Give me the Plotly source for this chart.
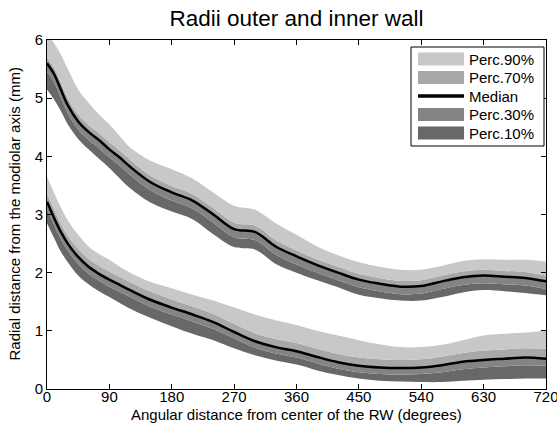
import plotly.graph_objects as go

angles = [0, 10, 20, 30, 45, 60, 75, 90, 105, 120, 150, 180, 210, 240, 270, 300,
          330, 360, 390, 420, 450, 480, 510, 540, 570, 600, 630, 660, 690, 720]

outer_p90 = [6.10, 5.95, 5.75, 5.50, 5.15, 4.92, 4.72, 4.55, 4.35, 4.15, 3.92, 3.78, 3.62, 3.38, 3.15,
             3.08, 2.85, 2.65, 2.45, 2.30, 2.18, 2.10, 2.05, 2.05, 2.12, 2.20, 2.23, 2.22, 2.22, 2.19]
outer_p70 = [5.70, 5.53, 5.27, 5.00, 4.72, 4.54, 4.40, 4.24, 4.10, 3.94, 3.66, 3.49, 3.35, 3.11, 2.86,
             2.81, 2.56, 2.38, 2.23, 2.10, 1.98, 1.91, 1.86, 1.87, 1.95, 2.02, 2.05, 2.03, 2.01, 1.95]
outer_p50 = [5.60, 5.42, 5.15, 4.88, 4.60, 4.42, 4.28, 4.12, 3.98, 3.82, 3.55, 3.38, 3.24, 3.00, 2.75,
             2.70, 2.45, 2.28, 2.13, 2.00, 1.88, 1.81, 1.76, 1.77, 1.85, 1.92, 1.95, 1.93, 1.91, 1.85]
outer_p30 = [5.45, 5.28, 5.01, 4.74, 4.46, 4.28, 4.14, 3.98, 3.84, 3.68, 3.41, 3.24, 3.10, 2.86, 2.61,
             2.56, 2.31, 2.14, 2.00, 1.87, 1.75, 1.68, 1.63, 1.64, 1.72, 1.79, 1.82, 1.80, 1.78, 1.72]
outer_p10 = [5.15, 4.98, 4.78, 4.55, 4.30, 4.12, 3.96, 3.80, 3.62, 3.45, 3.20, 3.05, 2.92, 2.66, 2.44,
             2.40, 2.15, 2.00, 1.87, 1.75, 1.62, 1.56, 1.52, 1.52, 1.58, 1.66, 1.70, 1.68, 1.65, 1.61]

inner_p90 = [3.65, 3.38, 3.12, 2.90, 2.65, 2.45, 2.32, 2.22, 2.10, 2.00, 1.84, 1.73, 1.62, 1.52, 1.40,
             1.28, 1.18, 1.10, 1.00, 0.92, 0.84, 0.77, 0.72, 0.72, 0.76, 0.84, 0.92, 0.95, 0.97, 1.00]
inner_p70 = [3.36, 3.09, 2.84, 2.64, 2.41, 2.24, 2.12, 2.02, 1.93, 1.84, 1.67, 1.54, 1.42, 1.29, 1.12,
             0.96, 0.86, 0.79, 0.69, 0.60, 0.54, 0.51, 0.50, 0.51, 0.56, 0.62, 0.66, 0.68, 0.70, 0.69]
inner_p50 = [3.22, 2.95, 2.70, 2.50, 2.27, 2.10, 1.98, 1.88, 1.79, 1.70, 1.53, 1.40, 1.28, 1.15, 0.98,
             0.82, 0.72, 0.65, 0.55, 0.46, 0.40, 0.37, 0.36, 0.37, 0.41, 0.47, 0.50, 0.52, 0.54, 0.52]
inner_p30 = [3.08, 2.83, 2.58, 2.38, 2.15, 1.98, 1.86, 1.76, 1.67, 1.58, 1.41, 1.28, 1.16, 1.03, 0.87,
             0.71, 0.61, 0.54, 0.44, 0.35, 0.29, 0.26, 0.25, 0.26, 0.29, 0.34, 0.37, 0.39, 0.41, 0.40]
inner_p10 = [2.85, 2.60, 2.36, 2.18, 1.95, 1.80, 1.68, 1.58, 1.48, 1.38, 1.22, 1.08, 0.95, 0.84, 0.70,
             0.58, 0.49, 0.42, 0.32, 0.24, 0.18, 0.14, 0.13, 0.12, 0.12, 0.14, 0.16, 0.17, 0.18, 0.18]

legend_labels = ["Perc.90%", "Perc.70%", "Median", "Perc.30%", "Perc.10%"]
x_title = "Angular distance from center of the RW (degrees)"
y_title = "Radial distance from the modiolar axis (mm)"
col90, col70, col30, col10 = "#c8c8ca", "#a8a8aa", "#848486", "#68686a"
FONT = "Liberation Sans, Arial, sans-serif"

fig = go.Figure()

for p10, p30, p50, p70, p90 in [(outer_p10, outer_p30, outer_p50, outer_p70, outer_p90),
                                (inner_p10, inner_p30, inner_p50, inner_p70, inner_p90)]:
    fig.add_trace(go.Scatter(x=angles, y=p10, mode="lines", line=dict(width=0, shape="spline"),
                             fill="none", showlegend=False, hoverinfo="skip"))
    for ys, c in [(p30, col10), (p50, col30), (p70, col70), (p90, col90)]:
        fig.add_trace(go.Scatter(x=angles, y=ys, mode="lines", line=dict(width=0, shape="spline"),
                                 fill="tonexty", fillcolor=c, showlegend=False, hoverinfo="skip"))

for p50 in [outer_p50, inner_p50]:
    fig.add_trace(go.Scatter(x=angles, y=p50, mode="lines",
                             line=dict(color="black", width=2.5, shape="spline"),
                             showlegend=False, hoverinfo="skip"))

# plot area in pixels
L, R, T, B = 47, 546, 40, 389
W, H = R - L, B - T
def px(x):
    return (x - L) / W
def py(y):
    return (B - y) / H

shapes = [dict(type="rect", xref="paper", yref="paper", x0=px(411), x1=px(544), y0=py(146), y1=py(47),
               line=dict(color="black", width=1), fillcolor="white", layer="above")]
annotations = []
row_y = [59, 77.5, 96, 114.5, 133]
sw_cols = [col90, col70, None, col30, col10]
for lab, yc, c in zip(legend_labels, row_y, sw_cols):
    if c is None:
        shapes.append(dict(type="line", xref="paper", yref="paper", x0=px(418), x1=px(464),
                           y0=py(yc), y1=py(yc), line=dict(color="black", width=3.5), layer="above"))
    else:
        shapes.append(dict(type="rect", xref="paper", yref="paper", x0=px(418), x1=px(464),
                           y0=py(yc + 6.5), y1=py(yc - 6.5), line=dict(width=0), fillcolor=c, layer="above"))
    annotations.append(dict(text=lab, xref="paper", yref="paper", x=px(467), y=py(yc),
                            xanchor="left", yanchor="middle", showarrow=False,
                            font=dict(family=FONT, size=15, color="black")))

annotations.append(dict(text=x_title, xref="paper", yref="paper", x=0.5, y=py(414),
                        xanchor="center", yanchor="middle", showarrow=False,
                        font=dict(family=FONT, size=15, color="black")))
annotations.append(dict(text=y_title, xref="paper", yref="paper", x=px(14), y=0.5, textangle=-90,
                        xanchor="center", yanchor="middle", showarrow=False,
                        font=dict(family=FONT, size=15, color="black")))

fig.update_layout(
    width=557, height=426,
    margin=dict(l=L, r=557 - R, t=T, b=426 - B),
    paper_bgcolor="white", plot_bgcolor="white",
    title=dict(text="Radii outer and inner wall", x=0.5, xref="paper", y=1 - 18 / 426,
               yanchor="middle", font=dict(family=FONT, size=22.5, color="black")),
    font=dict(family=FONT, size=15, color="black"),
    shapes=shapes, annotations=annotations,
    xaxis=dict(range=[0, 720], tickvals=list(range(0, 721, 90)), ticks="inside", ticklen=5,
               tickcolor="black", showline=True, linecolor="black", linewidth=1, mirror="ticks",
               showgrid=False, zeroline=False, automargin=False, ticklabeloverflow="allow",
               ticklabelstandoff=-6, tickfont=dict(size=15)),
    yaxis=dict(range=[0, 6], tickvals=list(range(0, 7)), ticks="inside", ticklen=5,
               tickcolor="black", showline=True, linecolor="black", linewidth=1, mirror="ticks",
               showgrid=False, zeroline=False, automargin=False, ticklabeloverflow="allow",
               tickfont=dict(size=15)),
)

fig.write_html("out.html", config={"displayModeBar": False},
               post_script="document.body.style.margin='0';document.body.style.overflow='hidden';")
